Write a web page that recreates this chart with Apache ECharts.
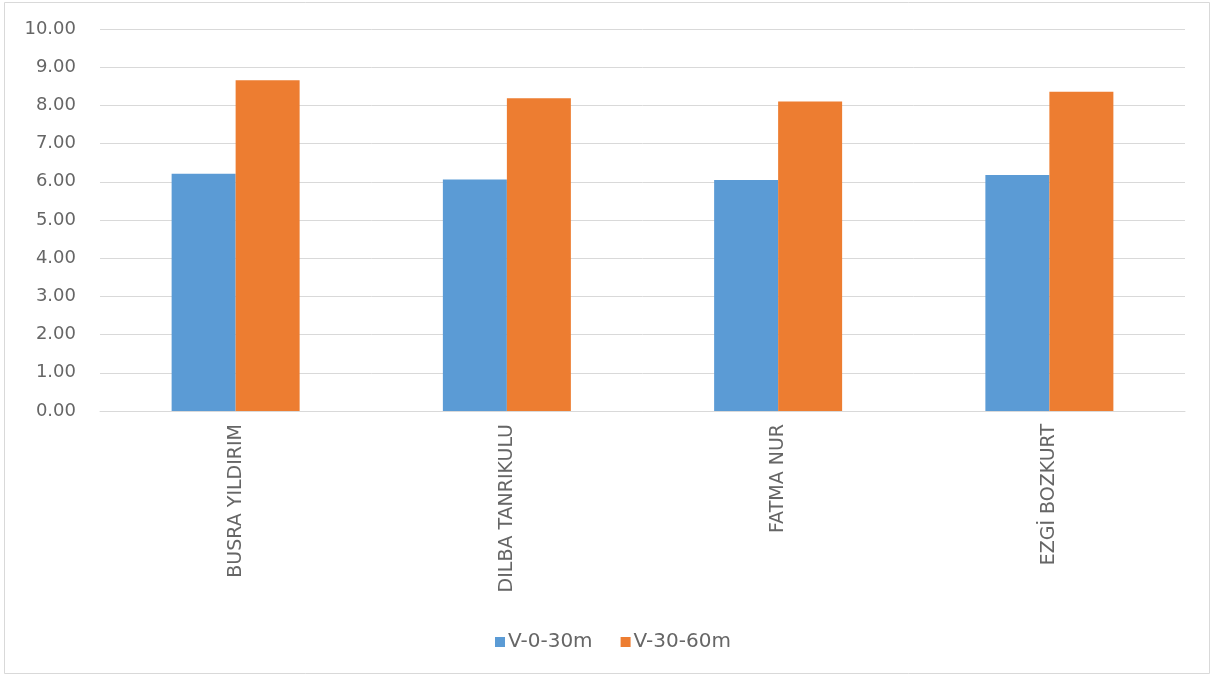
<!DOCTYPE html>
<html>
<head>
<meta charset="utf-8">
<script src="https://cdn.jsdelivr.net/npm/echarts@6/dist/echarts.min.js"></script>
<style>
html,body{margin:0;padding:0;background:#fff;}
#chart{width:1214px;height:676px;}
</style>
</head>
<body>
<div id="chart"></div>
<script>
const categories = ['BUSRA YILDIRIM', 'DILBA TANRIKULU', 'FATMA NUR', 'EZGİ BOZKURT'];
const seriesNames = ['V-0-30m', 'V-30-60m'];
const v0_30 = [6.21, 6.06, 6.05, 6.18];
const v30_60 = [8.66, 8.19, 8.10, 8.36];

const chart = echarts.init(document.getElementById('chart'));
const font = 'DejaVu Sans';
chart.setOption({
  animation: false,
  backgroundColor: '#ffffff',
  graphic: [{
    type: 'rect',
    shape: {x: 4.5, y: 2.5, width: 1205, height: 671},
    style: {fill: 'none', stroke: '#d9d9d9', lineWidth: 1},
    silent: true
  }],
  grid: {left: 100, right: 29, top: 29, bottom: 265, containLabel: false},
  legend: {
    data: seriesNames,
    top: 627,
    left: 490,
    itemWidth: 10,
    itemHeight: 10,
    itemGap: 28,
    icon: 'rect',
    textStyle: {color: '#666666', fontSize: 20, fontFamily: font, padding: [0,0,0,-2]}
  },
  xAxis: {
    type: 'category',
    data: categories,
    axisLine: {show: true, lineStyle: {color: '#d9d9d9'}},
    axisTick: {show: false},
    axisLabel: {rotate: 90, color: '#666666', fontSize: 19, fontFamily: font, margin: 13}
  },
  yAxis: {
    type: 'value',
    min: 0,
    max: 10,
    interval: 1,
    axisLine: {show: false},
    axisTick: {show: false},
    splitLine: {lineStyle: {color: '#d9d9d9'}},
    axisLabel: {color: '#666666', fontSize: 18, fontFamily: font, margin: 24,
      formatter: v => v.toFixed(2)}
  },
  series: [
    {name: seriesNames[0], type: 'bar', data: v0_30, barWidth: 64, barGap: '0%',
     itemStyle: {color: '#5B9BD5'}},
    {name: seriesNames[1], type: 'bar', data: v30_60, barWidth: 64, barGap: '0%',
     itemStyle: {color: '#ED7D31'}}
  ]
});
</script>
</body>
</html>
